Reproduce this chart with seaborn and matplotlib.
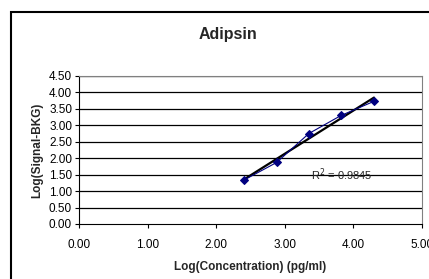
import numpy as np
import matplotlib
matplotlib.use("Agg")
import matplotlib.pyplot as plt
import seaborn as sb
from matplotlib.patches import Rectangle

# data
log_conc = [2.40, 2.88, 3.35, 3.82, 4.30]
log_signal = [1.33, 1.87, 2.75, 3.30, 3.73]
r2_label = "R$^2$ = 0.9845"
x_ticks = [0, 1, 2, 3, 4, 5]
y_ticks = [0, 0.5, 1, 1.5, 2, 2.5, 3, 3.5, 4, 4.5]

sb.set_style("white")
plt.rcParams['font.family'] = ['Liberation Sans', 'DejaVu Sans']

fig = plt.figure(figsize=(4.29, 2.79), dpi=100)
ax = fig.add_axes([79/429, 1-224/279, 343/429, 148/279])

# outer chart frame (runs off the right and bottom edge)
fig.patches.append(Rectangle((11/429, -0.05), 1.2, 1-12/279+0.05, transform=fig.transFigure,
                             fill=False, edgecolor='black', linewidth=1.5))

for y in y_ticks[1:]:
    ax.axhline(y, color='black', linewidth=0.9, zorder=1)

sb.lineplot(x=log_conc, y=log_signal, ax=ax, color='#000080', linewidth=0.8,
            marker='D', markersize=4, markeredgecolor='#000080', zorder=3)

# linear trendline
k, d = np.polyfit(log_conc, log_signal, 1)
xs = np.array([log_conc[0], log_conc[-1]])
ax.plot(xs, k*xs + d, color='black', linewidth=1.6, zorder=2)

ax.text(3.38, 1.49, r2_label, fontsize=8, va='center', ha='left')

ax.set_xlim(0, 5)
ax.set_ylim(0, 4.5)
ax.set_xticks(x_ticks)
ax.set_yticks(y_ticks)
ax.set_xticklabels([f"{v:.2f}" for v in x_ticks], fontsize=8.5)
ax.set_yticklabels([f"{v:.2f}" for v in y_ticks], fontsize=8.5)
ax.tick_params(axis='both', length=3, width=0.8, direction='out', pad=2, colors='black',
               bottom=True, left=True)
ax.tick_params(axis='x', pad=8)
for s in ax.spines.values():
    s.set_color('#808080')
    s.set_linewidth(0.8)
ax.spines['left'].set_color('black')
ax.spines['bottom'].set_color('black')

ax.set_xlabel("Log(Concentration) (pg/ml)", fontsize=8.5, fontweight='bold', labelpad=7)
ax.set_ylabel("Log(Signal-BKG)", fontsize=8.5, fontweight='bold', labelpad=4)
fig.text(228/429, 1-34/279, "Adipsin", fontsize=11.5, fontweight='bold', ha='center', va='center')

fig.savefig("out.png", dpi=100)
